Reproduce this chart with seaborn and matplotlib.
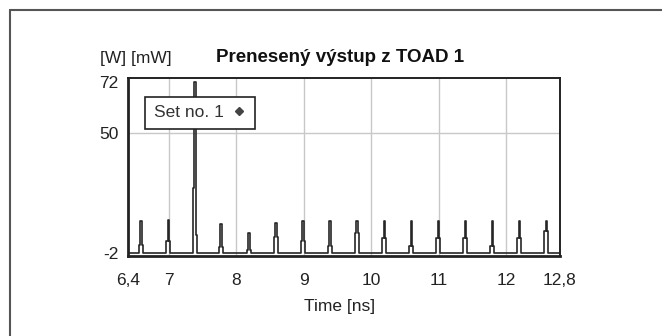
import numpy as np
import pandas as pd
import matplotlib
matplotlib.use("Agg")
import matplotlib.pyplot as plt
import seaborn as sns
from matplotlib.lines import Line2D

# ---- data ----
pulse_centers = [6.59, 7.0, 7.39, 7.78, 8.19, 8.59, 8.99, 9.39, 9.79, 10.2,
                 10.6, 11.0, 11.4, 11.8, 12.2, 12.6]
pulse_peaks = [12.0, 12.5, 72.0, 10.5, 6.8, 11.2, 11.8, 11.8, 11.8, 11.8,
               11.8, 11.8, 11.8, 11.8, 11.8, 11.8]
pulse_shoulders = [1.5, 3.0, 6.0, 0.5, -0.5, 5.0, 3.0, 1.0, 6.8, 4.6,
                   1.0, 4.6, 4.6, 1.0, 4.6, 7.4]
pulse_mids = [1.5, 3.0, 26.0, 0.5, -0.5, 5.0, 3.0, 1.0, 6.8, 4.6,
              1.0, 4.6, 4.6, 1.0, 4.6, 7.4]
baseline = -2.0
t_start, t_end = 6.4, 12.8
x_ticks = [6.4, 7, 8, 9, 10, 11, 12, 12.8]
x_tick_labels = ["6,4", "7", "8", "9", "10", "11", "12", "12,8"]
y_ticks = [-2, 50, 72]
y_tick_labels = ["-2", "50", "72"]
series_name = "Set no. 1"

# ---- build waveform path from the read pulse values ----
ts, vs = [t_start], [baseline]
for c, pk, sh, md in zip(pulse_centers, pulse_peaks, pulse_shoulders, pulse_mids):
    pts = [(c - 0.032, baseline), (c - 0.032, sh), (c - 0.022, sh),
           (c - 0.022, md), (c - 0.013, md), (c - 0.013, pk),
           (c + 0.013, pk), (c + 0.013, md), (c + 0.022, md),
           (c + 0.022, sh), (c + 0.026, sh), (c + 0.026, baseline)]
    for t, v in pts:
        ts.append(t)
        vs.append(v)
ts.append(t_end)
vs.append(baseline)
df = pd.DataFrame({"t": ts, "v": vs, "s": series_name})

sns.set_style("white")
plt.rcParams["font.family"] = ["Liberation Sans", "DejaVu Sans"]

fig = plt.figure(figsize=(6.62, 3.36), dpi=100)
ax = fig.add_axes([128 / 662, 1 - 256 / 336, 432 / 662, 178 / 336])

sns.lineplot(data=df, x="t", y="v", sort=False, estimator=None, ax=ax,
             color="#262626", linewidth=1.2, legend=False)

ax.set_xlim(t_start, t_end)
ax.set_ylim(-3.3, 73.8)
ax.set_xticks(x_ticks)
ax.set_xticklabels(x_tick_labels)
ax.set_yticks(y_ticks)
ax.set_yticklabels(y_tick_labels)
ax.set_xlabel("")
ax.set_ylabel("")

for xg in [7, 8, 9, 10, 11, 12]:
    ax.axvline(xg, color="#c8c8c8", lw=1, zorder=0)
ax.axhline(50, color="#c8c8c8", lw=1, zorder=0)

ax.tick_params(axis="both", direction="in", length=4, width=1.2, color="#222222",
               labelsize=12.5, labelcolor="#222222")
ax.tick_params(axis="x", pad=12)
ax.tick_params(axis="y", pad=7)
for side in ["left", "bottom"]:
    ax.spines[side].set_linewidth(2)
for side in ["top", "right"]:
    ax.spines[side].set_linewidth(1.4)
for sp in ax.spines.values():
    sp.set_color("#222222")
    sp.set_visible(True)

handle = Line2D([], [], linestyle="none", marker="D", markersize=4,
                color="#444444")
leg = ax.legend([handle], [series_name], loc="upper left",
                bbox_to_anchor=(0.032, 0.915), markerfirst=False,
                frameon=True, fancybox=False, framealpha=1,
                fontsize=12.5, handlelength=0.9, handletextpad=0.4,
                borderpad=0.5, borderaxespad=0.2, labelcolor="#333333")
leg.get_frame().set_edgecolor("#222222")
leg.get_frame().set_linewidth(1.2)

fig.text(100 / 662, 1 - 58 / 336, "[W] [mW]", fontsize=12.5, color="#222222",
         ha="left", va="center")
fig.text(340 / 662, 1 - 58 / 336, "Prenesený výstup z TOAD 1", fontsize=13.5,
         fontweight="bold", color="#111111", ha="center", va="center")
fig.text(340 / 662, 1 - 306 / 336, "Time [ns]", fontsize=12.5, color="#222222",
         ha="center", va="center")

# outer frame (left and top edges)
fig.add_artist(Line2D([10 / 662, 10 / 662], [0, 1 - 10 / 336],
                      transform=fig.transFigure, color="#555555", lw=1.5))
fig.add_artist(Line2D([10 / 662, 1], [1 - 10 / 336, 1 - 10 / 336],
                      transform=fig.transFigure, color="#555555", lw=1.5))

fig.savefig("out.png", dpi=100)
